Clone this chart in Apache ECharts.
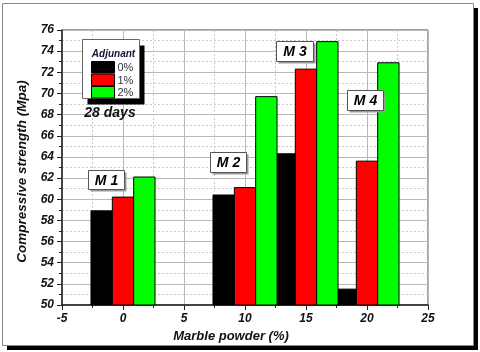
<!DOCTYPE html>
<html>
<head>
<meta charset="UTF-8">
<title>Compressive strength</title>
<style>
  html, body { margin: 0; padding: 0; background: #fff; }
  #main { width: 480px; height: 352px; }
</style>
<script src="https://cdn.jsdelivr.net/npm/echarts@6/dist/echarts.min.js"></script>
</head>
<body>
<div id="main"></div>
<script>
// marble powder content (%) per mix M1..M4
var powder = [0, 10, 15, 20];
var mixNames = ['M 1', 'M 2', 'M 3', 'M 4'];
// compressive strength (MPa) at 28 days, per adjunant dosage
var adj0 = [58.9, 60.4, 64.3, 51.5];
var adj1 = [60.2, 61.1, 72.3, 63.6];
var adj2 = [62.1, 69.7, 74.9, 72.9];
var adjNames = ['0%', '1%', '2%'];
var colors = ['#000000', '#ff0000', '#00ff00'];

var barW = 1.75; // bar width in x units
var FONT = 'Liberation Sans, Arial, sans-serif';

function pairs(vals) {
    return powder.map(function (p, i) { return [p, vals[i]]; });
}

function barSeries(name, vals, idx) {
    var off = (idx - 1) * barW;
    return {
        type: 'custom',
        name: name,
        data: pairs(vals),
        z: 5,
        renderItem: function (params, api) {
            var x = api.value(0) + off;
            var p1 = api.coord([x - barW / 2, api.value(1)]);
            var p2 = api.coord([x + barW / 2, 50]);
            return {
                type: 'rect',
                shape: { x: p1[0], y: p1[1], width: p2[0] - p1[0], height: p2[1] - p1[1] },
                style: { fill: colors[idx], stroke: '#000', lineWidth: 1 }
            };
        }
    };
}

var chart = echarts.init(document.getElementById('main'));

var axisLabel = { color: '#111', fontFamily: FONT, fontStyle: 'italic', fontWeight: 'bold', fontSize: 12 };

// small boxed label with a shadow
function tagBox(text, x, y, w, h) {
    return {
        type: 'group', x: x, y: y,
        children: [
            { type: 'rect', z: 100, shape: { x: 2, y: 2, width: w, height: h }, style: { fill: '#999' } },
            { type: 'rect', z: 101, shape: { x: 0, y: 0, width: w, height: h }, style: { fill: '#fff', stroke: '#555', lineWidth: 1 } },
            { type: 'text', z: 102, x: w / 2, y: h / 2 + 1, style: { text: text, fill: '#000', font: 'italic bold 14px ' + FONT, align: 'center', verticalAlign: 'middle' } }
        ]
    };
}

var legendKids = [
    { type: 'rect', z: 100, shape: { x: 5, y: 6, width: 57, height: 59 }, style: { fill: '#000' } },
    { type: 'rect', z: 101, shape: { x: 0, y: 0, width: 57, height: 59 }, style: { fill: '#fff', stroke: '#666', lineWidth: 1 } },
    { type: 'text', z: 102, x: 31, y: 15, style: { text: 'Adjunant', fill: '#111133', font: 'italic bold 10px ' + FONT, align: 'center', verticalAlign: 'middle' } }
];
adjNames.forEach(function (n, i) {
    legendKids.push({ type: 'rect', z: 102, shape: { x: 9, y: 22 + i * 12.5, width: 23, height: 11.5 }, style: { fill: colors[i], stroke: '#000', lineWidth: 1 } });
    legendKids.push({ type: 'text', z: 102, x: 35, y: 28.5 + i * 12.5, style: { text: n, fill: '#333344', font: '11px ' + FONT, verticalAlign: 'middle' } });
});

chart.setOption({
    backgroundColor: '#fff',
    animation: false,
    grid: { left: 62, top: 30, right: 52, bottom: 47, show: true, borderColor: '#444', borderWidth: 1 },
    xAxis: {
        type: 'value', min: -5, max: 25, interval: 5,
        name: 'Marble powder (%)', nameLocation: 'middle', nameGap: 15,
        nameTextStyle: { color: '#111', fontFamily: FONT, fontStyle: 'italic', fontWeight: 'bold', fontSize: 13, padding: [0, 28, 0, 0] },
        axisLine: { show: true, onZero: false, lineStyle: { color: '#222', width: 1.5 } },
        axisTick: { show: true, inside: false, length: 5, lineStyle: { color: '#222' } },
        minorTick: { show: true, splitNumber: 2, length: 3, lineStyle: { color: '#222' } },
        axisLabel: Object.assign({ margin: 8 }, axisLabel),
        splitLine: { show: true, lineStyle: { color: '#b8b8b8', width: 1 } },
        minorSplitLine: { show: true, lineStyle: { color: '#c8c8c8', type: [2, 2] } }
    },
    yAxis: {
        type: 'value', min: 50, max: 76, interval: 2,
        name: 'Compressive strength (Mpa)', nameLocation: 'middle', nameGap: 27,
        nameTextStyle: { color: '#111', fontFamily: FONT, fontStyle: 'italic', fontWeight: 'bold', fontSize: 13.5, padding: [0, 8, 0, 0] },
        axisLine: { show: true, onZero: false, lineStyle: { color: '#222', width: 1.5 } },
        axisTick: { show: true, inside: false, length: 5, lineStyle: { color: '#222' } },
        minorTick: { show: true, splitNumber: 2, length: 3, lineStyle: { color: '#222' } },
        axisLabel: Object.assign({ margin: 8 }, axisLabel),
        splitLine: { show: true, lineStyle: { color: '#b8b8b8', width: 1 } },
        minorSplitLine: { show: true, lineStyle: { color: '#c8c8c8', type: [2, 2] } }
    },
    series: [
        barSeries(adjNames[0], adj0, 0),
        barSeries(adjNames[1], adj1, 1),
        barSeries(adjNames[2], adj2, 2)
    ],
    graphic: [
        // outer frame with drop shadow
        { type: 'rect', z: -10, shape: { x: 7, y: 8, width: 471, height: 342 }, style: { fill: '#000' } },
        { type: 'rect', z: -9, shape: { x: 2.5, y: 3.5, width: 471, height: 342 }, style: { fill: '#fff', stroke: '#888', lineWidth: 1 } },
        { type: 'group', x: 82.5, y: 39.5, children: legendKids },
        { type: 'text', z: 100, x: 110, y: 113, style: { text: '28 days', fill: '#111', font: 'italic bold 14px ' + FONT, align: 'center', verticalAlign: 'middle' } },
        tagBox(mixNames[0], 88.5, 170.5, 36, 19),
        tagBox(mixNames[1], 210.5, 152.5, 36, 20),
        tagBox(mixNames[2], 276.5, 41.5, 37, 20),
        tagBox(mixNames[3], 347.5, 90.5, 36, 20)
    ]
});
</script>
</body>
</html>
